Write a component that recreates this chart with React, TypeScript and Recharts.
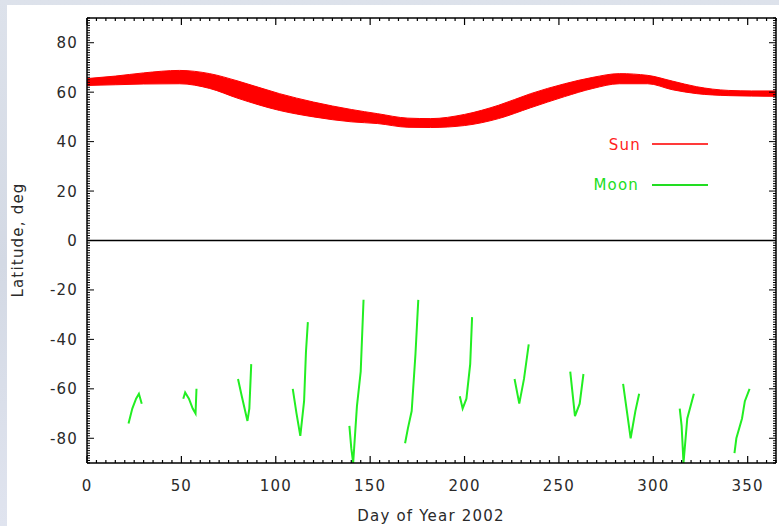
import React from 'react';
import { ComposedChart, Area, Line, XAxis, YAxis, ReferenceLine } from 'recharts';

// Sun latitude band (daily min / max)
const sunDays = [0, 15, 30, 49, 65, 80, 102, 120, 140, 154, 170, 182, 200, 218, 235, 253, 268, 282, 297, 310, 323, 340, 352, 365];
const sunHigh = [65.5, 66.5, 67.8, 68.8, 67.5, 64.5, 59.4, 56, 53, 51.3, 49.5, 49.3, 51, 54.7, 59.4, 63.4, 66, 67.5, 66.8, 64.5, 62.2, 60.7, 60.5, 60.5];
const sunLow = [62.7, 63, 63.3, 63.4, 61.5, 57.5, 52.6, 50, 48, 47.3, 45.8, 45.7, 46.5, 49.3, 53.7, 58.2, 61.5, 63.4, 63.4, 61, 59.4, 58.6, 58.4, 58.3];

// Moon latitude, one short track per month; null breaks the line
const moonDays = [
  22, 24, 26, 27.5, 29, 40,
  51, 52, 54, 56, 57.5, 58, 70,
  80, 82, 85, 86, 87, 100,
  109, 111, 113, 115, 116, 117, 130,
  139, 140, 141, 143, 145, 146.5, 160,
  168.5, 170, 172, 174, 175.5, 190,
  197.5, 199, 201, 203, 204, 215,
  226.5, 229, 231.5, 234, 245,
  256, 258.5, 261, 263, 275,
  284, 286, 288, 290.5, 292.5, 305,
  314, 315, 316, 318, 321.5, 335,
  343, 344, 347, 348.5, 351,
];
const moonLat = [
  -74, -68, -64, -62, -66, null,
  -64, -61.5, -64, -68, -70, -60, null,
  -56, -63, -73, -68, -50, null,
  -60, -70, -79, -65, -45, -33, null,
  -75, -84, -90, -67, -53, -24, null,
  -82, -76, -69, -46, -24, null,
  -63, -68, -64, -50, -31, null,
  -56, -66, -56, -42, null,
  -53, -71, -66, -54, null,
  -58, -69, -80, -69, -62, null,
  -68, -75, -90, -72, -62, null,
  -86, -80, -72, -65, -60,
];

const xMinorTicks = Array.from({ length: 74 }, (_, i) => i * 5);
const yMinorTicks = Array.from({ length: 181 }, (_, i) => i - 90);

const sunData = sunDays.map((day, i) => ({ day, sun: [sunLow[i], sunHigh[i]] }));
const moonData = moonDays.map((day, i) => ({ day, moon: moonLat[i] }));

const FONT = '"DejaVu Sans", sans-serif';
const TEXT = '#2a2a2a';
const txt = { fontFamily: FONT, fontSize: 15, letterSpacing: 1.2, fill: TEXT } as const;

const BottomTick = (props: any) => {
  const { x, y, payload } = props;
  const v = payload.value;
  const major = v % 50 === 0;
  return (
    <g>
      <line x1={x} x2={x} y1={y} y2={y - (major ? 7 : 3)} stroke="#000" strokeWidth={1.2} />
      {major && (
        <text x={x} y={y + 28} textAnchor="middle" {...txt}>{v}</text>
      )}
    </g>
  );
};

const TopTick = (props: any) => {
  const { x, y, payload } = props;
  const major = payload.value % 50 === 0;
  return <line x1={x} x2={x} y1={y} y2={y + (major ? 7 : 3)} stroke="#000" strokeWidth={1.2} />;
};

const LeftTick = (props: any) => {
  const { x, y, payload } = props;
  const v = payload.value;
  const major = v % 20 === 0 && Math.abs(v) < 90;
  return (
    <g>
      <line x1={x} x2={x + (major ? 7 : 3)} y1={y} y2={y} stroke="#000" strokeWidth={1} />
      {major && (
        <text x={x - 9} y={y + 5.5} textAnchor="end" {...txt}>{v}</text>
      )}
    </g>
  );
};

const RightTick = (props: any) => {
  const { x, y, payload } = props;
  const v = payload.value;
  const major = v % 20 === 0 && Math.abs(v) < 90;
  return <line x1={x} x2={x - (major ? 7 : 3)} y1={y} y2={y} stroke="#000" strokeWidth={1} />;
};

export default function App() {
  return (
    <div
      style={{
        position: 'absolute', left: 0, top: 0, width: 779, height: 526, overflow: 'hidden',
        background: 'linear-gradient(180deg, #dde2eb 0%, #d3d9e4 50%, #e0e4ef 100%)',
      }}
    >
      <div style={{ position: 'absolute', left: 7, top: 5, right: 0, bottom: 0, background: '#fff' }} />
      <div style={{ position: 'absolute', left: 0, top: 0 }}>
        <ComposedChart width={779} height={526} data={sunData} margin={{ top: 16, right: 0, left: 27, bottom: 13 }}>
          <XAxis
            dataKey="day" type="number" domain={[0, 365]} allowDataOverflow
            ticks={xMinorTicks} interval={0} tick={<BottomTick />}
            tickLine={false} tickSize={0} tickMargin={0} height={50}
            axisLine={{ stroke: '#000', strokeWidth: 1.5 }}
          />
          <XAxis
            xAxisId="top" orientation="top" dataKey="day" type="number" domain={[0, 365]} allowDataOverflow
            ticks={xMinorTicks} interval={0} tick={<TopTick />}
            tickLine={false} tickSize={0} tickMargin={0} height={2}
            axisLine={{ stroke: '#000', strokeWidth: 1.5 }}
          />
          <YAxis
            type="number" domain={[-90, 90]} allowDataOverflow
            ticks={yMinorTicks} interval={0} tick={<LeftTick />}
            tickLine={false} tickSize={0} tickMargin={0} width={60}
            axisLine={{ stroke: '#000', strokeWidth: 1.5 }}
          />
          <YAxis
            yAxisId="right" orientation="right" type="number" domain={[-90, 90]} allowDataOverflow
            ticks={yMinorTicks} interval={0} tick={<RightTick />}
            tickLine={false} tickSize={0} tickMargin={0} width={3}
            axisLine={{ stroke: '#000', strokeWidth: 1.5 }}
          />
          <ReferenceLine y={0} stroke="#000" strokeWidth={1.5} />
          <Area
            dataKey="sun" type="monotone" stroke="#ff0000" strokeWidth={1}
            fill="#ff0000" fillOpacity={1} isAnimationActive={false} dot={false} activeDot={false}
          />
          <Line
            data={moonData} dataKey="moon" type="linear" stroke="#22ee22" strokeWidth={2}
            dot={false} activeDot={false} connectNulls={false} isAnimationActive={false}
          />
        </ComposedChart>
      </div>
      <svg width={779} height={526} style={{ position: 'absolute', left: 0, top: 0, pointerEvents: 'none' }}>
        <text x={431} y={521} textAnchor="middle" {...txt}>Day of Year 2002</text>
        <text x={0} y={0} textAnchor="middle" transform="translate(23, 240) rotate(-90)" {...txt}>Latitude, deg</text>
        <text x={641} y={150} textAnchor="end" {...txt} fill="#ff2020">Sun</text>
        <line x1={652} x2={708} y1={144} y2={144} stroke="#ff3a3a" strokeWidth={2} />
        <text x={639} y={190} textAnchor="end" {...txt} fill="#22dd22">Moon</text>
        <line x1={652} x2={708} y1={185} y2={185} stroke="#22dd22" strokeWidth={2} />
      </svg>
    </div>
  );
}
